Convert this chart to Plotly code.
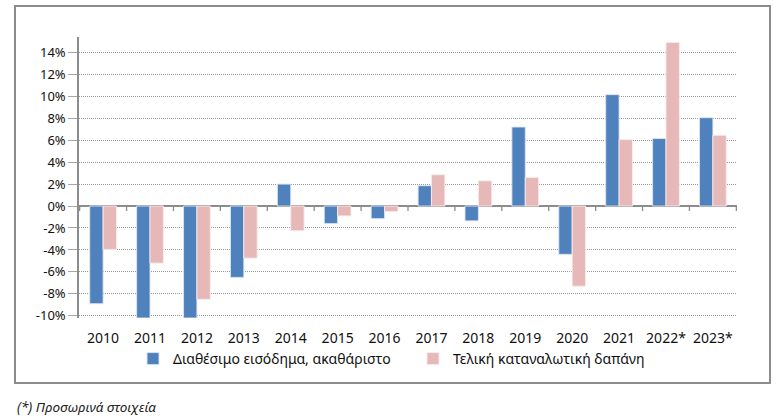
import plotly.graph_objects as go

years = ["2010", "2011", "2012", "2013", "2014", "2015", "2016", "2017",
         "2018", "2019", "2020", "2021", "2022*", "2023*"]
income = [-8.9, -10.2, -10.2, -6.5, 2.0, -1.6, -1.15, 1.85, -1.35, 7.2,
          -4.4, 10.15, 6.15, 8.05]
spending = [-3.95, -5.2, -8.5, -4.75, -2.25, -0.9, -0.5, 2.85, 2.3, 2.6,
            -7.3, 6.05, 14.9, 6.45]
income_name = "Διαθέσιμο εισόδημα, ακαθάριστο"
spending_name = "Τελική καταναλωτική δαπάνη"
footnote = "(*) Προσωρινά στοιχεία"
ytick_vals = list(range(-10, 16, 2))
ytick_text = [f"{v}%" for v in ytick_vals]

FONT = "Noto Sans"
W, H = 782, 419
L, R, T, B = 79, 45, 37, 101
pw, ph = W - L - R, H - T - B
YMIN, YMAX = -10.2, 15.4


def px_x(x):
    return (x - L) / pw


def px_y(y):
    return (H - B - y) / ph


fig = go.Figure()
fig.add_trace(go.Bar(x=years, y=income, name=income_name,
                     marker=dict(color="#4F81BD",
                                 line=dict(color="rgba(220,230,245,0.9)", width=1))))
fig.add_trace(go.Bar(x=years, y=spending, name=spending_name,
                     marker=dict(color="#E6B9B8",
                                 line=dict(color="rgba(250,235,235,0.9)", width=1))))

shapes = []
# category boundary ticks below the zero line
for i in range(len(years) + 1):
    shapes.append(dict(type="line", xref="x", yref="y", x0=i - 0.5, x1=i - 0.5,
                       y0=0, y1=-0.45, line=dict(color="#8C8C8C", width=1.3)))
# outer frame
shapes.append(dict(type="rect", xref="paper", yref="paper",
                   x0=px_x(15), x1=px_x(770), y0=px_y(383), y1=px_y(6),
                   line=dict(color="#8C8C8C", width=2), layer="below"))

fig.update_layout(
    width=W, height=H,
    margin=dict(l=L, r=R, t=T, b=B),
    paper_bgcolor="white", plot_bgcolor="white",
    barmode="group", bargap=0.43, bargroupgap=0,
    font=dict(family=FONT, size=13, color="#111"),
    showlegend=True,
    legend=dict(orientation="h", x=px_x(133), xanchor="left",
                y=px_y(359), yanchor="middle",
                font=dict(family=FONT, size=14, color="#111"),
                itemwidth=30, entrywidth=235, entrywidthmode="pixels",
                bgcolor="rgba(0,0,0,0)"),
    shapes=shapes,
    annotations=[dict(text=footnote, xref="paper", yref="paper",
                      x=px_x(15), y=px_y(407), xanchor="left", yanchor="middle",
                      showarrow=False,
                      font=dict(family=FONT, size=13.5, color="#222", style="italic"))],
)
fig.update_xaxes(type="category", showline=False, ticks="", showgrid=False,
                 tickfont=dict(family=FONT, size=14, color="#111"),
                 ticklabelstandoff=10)
fig.update_yaxes(range=[YMIN, YMAX], tickvals=ytick_vals, ticktext=ytick_text,
                 showgrid=True, gridcolor="#9A9A9A", griddash="1px,1px", gridwidth=1,
                 zeroline=True, zerolinecolor="#8C8C8C", zerolinewidth=1.5,
                 showline=True, linecolor="#8C8C8C", linewidth=1.5,
                 ticks="outside", ticklen=9, tickcolor="#A6A6A6",
                 tickfont=dict(family=FONT, size=13, color="#111"))

fig.write_html("out.html", config={"displayModeBar": False},
               post_script="document.body.style.margin='0';document.body.style.overflow='hidden';")
